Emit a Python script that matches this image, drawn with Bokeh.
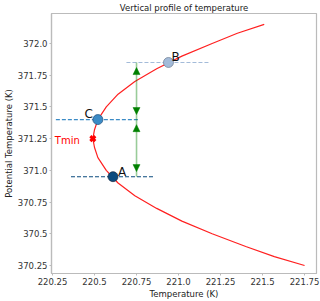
from bokeh.plotting import figure
from bokeh.models import Range1d, FixedTicker, Arrow, NormalHead, ColumnDataSource
from bokeh.core.properties import value
from bokeh.embed import file_html
from bokeh.resources import INLINE

# curve: potential temperature (K) vs temperature (K)
theta = [370.25, 370.32, 370.4, 370.5, 370.6, 370.7, 370.8, 370.9, 371.0, 371.1,
         371.18, 371.25, 371.32, 371.4, 371.5, 371.6, 371.7, 371.8, 371.9, 372.0,
         372.08, 372.15]
temp = [221.75, 221.57, 221.40, 221.20, 221.02, 220.87, 220.74, 220.64, 220.57, 220.52,
        220.50, 220.49, 220.50, 220.52, 220.57, 220.64, 220.74, 220.87, 221.02, 221.20,
        221.35, 221.51]

tmin_T = [220.49]
tmin_theta = [371.25]

pt_names = ["A", "B", "C"]
pt_T = [220.61, 220.94, 220.52]
pt_theta = [370.95, 371.85, 371.40]
pt_colors = ["#0b4b7e", "#a3bbd9", "#3b8bc6"]
pt_edges = ["#1a2a40", "#6b7b90", "#1f4e78"]
half_width = 0.25
arrow_T = 220.75
shrink = 0.04

x_ticks = [220.25, 220.5, 220.75, 221.0, 221.25, 221.5, 221.75]
x_tick_labels = ["220.25", "220.5", "220.75", "221.0", "221.25", "221.5", "221.75"]
y_ticks = [370.25, 370.5, 370.75, 371.0, 371.25, 371.5, 371.75, 372.0]
y_tick_labels = ["370.25", "370.5", "370.75", "371.0", "371.25", "371.5", "371.75", "372.0"]
x_label = "Temperature (K)"
y_label = "Potential Temperature (K)"

FONT = "DejaVu Sans"

p = figure(width=320, height=301, output_backend="svg", toolbar_location=None,
           x_range=Range1d(220.244, 221.821), y_range=Range1d(370.187, 372.236),
           title="Vertical profile of temperature",
           min_border_left=50, min_border_right=4, min_border_top=12, min_border_bottom=28)
p.title.text_font = FONT
p.title.text_font_size = "8.5px"
p.title.text_font_style = "normal"
p.title.text_color = "#222222"
p.title.align = "center"
p.title.standoff = 1
p.title.text_line_height = 1.0
p.xgrid.visible = False
p.ygrid.visible = False
p.outline_line_color = "#bbbbbb"
p.outline_line_width = 1.2
p.background_fill_color = "white"
p.border_fill_color = "white"

for ax, ticks, labels in ((p.xaxis[0], x_ticks, x_tick_labels), (p.yaxis[0], y_ticks, y_tick_labels)):
    ax.ticker = FixedTicker(ticks=ticks)
    ax.major_label_overrides = {t: l for t, l in zip(ticks, labels)}
    ax.axis_line_color = "#bbbbbb"
    ax.axis_line_width = 1.2
    ax.major_tick_line_color = "#bbbbbb"
    ax.major_tick_out = 2
    ax.major_tick_in = 0
    ax.minor_tick_line_color = None
    ax.major_label_text_font = FONT
    ax.major_label_text_font_size = "8.5px"
    ax.major_label_text_color = "#333333"
    ax.major_label_text_line_height = 1.0
    ax.axis_label_text_font = FONT
    ax.axis_label_text_font_size = "8.5px"
    ax.axis_label_text_font_style = "normal"
    ax.axis_label_text_color = "#222222"
    ax.axis_label_text_line_height = 1.0
    ax.major_label_standoff = 2
    ax.axis_label_standoff = 1

p.xaxis.axis_label = x_label
p.yaxis.axis_label = y_label

# curve
p.line(temp, theta, line_color="#ff2020", line_width=1.2)

# dashed horizontal lines through the points
for T, th, c in zip(pt_T, pt_theta, pt_colors):
    p.line([T - half_width, T + half_width], [th, th], line_color=c,
           line_dash="4 2", line_width=1.1)

# green arrows
A_th, B_th, C_th = pt_theta[0], pt_theta[1], pt_theta[2]
p.line([arrow_T, arrow_T], [A_th, B_th], line_color="green", line_alpha=0.4, line_width=1.6)
for lo, hi in ((C_th, B_th), (A_th, C_th)):
    p.add_layout(Arrow(x_start=arrow_T, y_start=lo + shrink, x_end=arrow_T, y_end=hi - shrink,
                       line_alpha=0,
                       start=NormalHead(size=7, fill_color="green", line_color="green", line_width=0.5),
                       end=NormalHead(size=7, fill_color="green", line_color="green", line_width=0.5)))

# Tmin marker
p.scatter(tmin_T, tmin_theta, marker="x", size=7, line_color="red", line_width=3)
p.text(tmin_T, tmin_theta, text=["Tmin"], text_color="red", text_font=value(FONT),
       text_font_size="10px", text_align="right", text_baseline="middle",
       x_offset=-13, y_offset=2)

# points
src = ColumnDataSource(dict(x=pt_T, y=pt_theta, c=pt_colors, e=pt_edges, n=pt_names))
p.scatter("x", "y", source=src, size=10, fill_color="c", line_color="e", line_width=0.7)

# point labels
p.text([pt_T[0]], [pt_theta[0]], text=[pt_names[0]], text_font=value(FONT), text_font_size="12px",
       text_color="#111111", text_align="left", text_baseline="alphabetic", x_offset=5, y_offset=-5)
p.text([pt_T[1]], [pt_theta[1]], text=[pt_names[1]], text_font=value(FONT), text_font_size="12px",
       text_color="#111111", text_align="left", text_baseline="alphabetic", x_offset=3, y_offset=-5)
p.text([pt_T[2]], [pt_theta[2]], text=[pt_names[2]], text_font=value(FONT), text_font_size="12px",
       text_color="#111111", text_align="right", text_baseline="alphabetic", x_offset=-5, y_offset=-6)

open("out.html", "w").write(file_html(p, INLINE))
